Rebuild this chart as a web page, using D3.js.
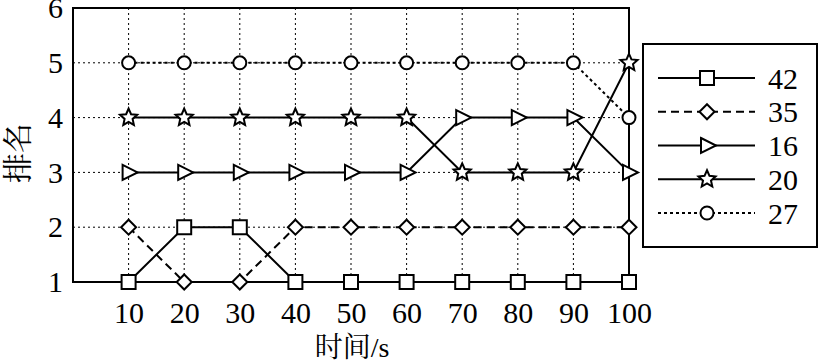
<!DOCTYPE html>
<html><head><meta charset="utf-8">
<script src="https://cdn.jsdelivr.net/npm/d3@7"></script>
<style>body{margin:0;background:#fff}svg{display:block}</style>
</head><body>
<svg id="c" width="822" height="362"></svg>
<script>
const times = [10,20,30,40,50,60,70,80,90,100];
const yTicks = [1,2,3,4,5,6];
const s42 = [1,2,2,1,1,1,1,1,1,1];
const s35 = [2,1,1,2,2,2,2,2,2,2];
const s16 = [3,3,3,3,3,3,4,4,4,3];
const s20 = [4,4,4,4,4,4,3,3,3,5];
const s27 = [5,5,5,5,5,5,5,5,5,4];
const seriesNames = ["42","35","16","20","27"];
const xLabel = "时间/s";
const yLabel = "排名";

const svg = d3.select("#c");
const L=73, R=629, T=8, B=282;
const x = d3.scaleLinear().domain([0,100]).range([L,R]);
const y = d3.scaleLinear().domain([1,6]).range([B,T]);
const serif = "Liberation Serif, DejaVu Serif, serif";
const cjk = "Noto Serif CJK SC, Noto Sans CJK SC, serif";

const symSquare = {draw(c){const h=7;c.moveTo(-h,-h);c.lineTo(h,-h);c.lineTo(h,h);c.lineTo(-h,h);c.closePath();}};
const symDiamond = {draw(c){const h=7.5;c.moveTo(0,-h);c.lineTo(h,0);c.lineTo(0,h);c.lineTo(-h,0);c.closePath();}};
const symTri = {draw(c){c.moveTo(-6,-7.5);c.lineTo(9,0);c.lineTo(-6,7.5);c.closePath();}};
const symCircle = {draw(c){c.moveTo(6.5,0);c.arc(0,0,6.5,0,2*Math.PI);}};
const symStar = {draw(c){const ro=9, ri=4.2;for(let i=0;i<10;i++){const r=i%2?ri:ro;const a=-Math.PI/2+i*Math.PI/5;const px=r*Math.cos(a),py=r*Math.sin(a);if(i===0)c.moveTo(px,py);else c.lineTo(px,py);}c.closePath();}};

const series = [
  {name:seriesNames[0], vals:s42, sym:symSquare, dash:null},
  {name:seriesNames[1], vals:s35, sym:symDiamond, dash:"8,5"},
  {name:seriesNames[2], vals:s16, sym:symTri, dash:null},
  {name:seriesNames[3], vals:s20, sym:symStar, dash:null},
  {name:seriesNames[4], vals:s27, sym:symCircle, dash:"3,3"}
];

const g = svg.append("g");
g.selectAll(".vg").data(times).join("line")
  .attr("x1",d=>x(d)).attr("x2",d=>x(d)).attr("y1",T).attr("y2",B)
  .attr("stroke","#000").attr("stroke-width",1).attr("stroke-dasharray","2,3");
g.selectAll(".hg").data(yTicks.filter(d=>d>1&&d<6)).join("line")
  .attr("x1",L).attr("x2",R).attr("y1",d=>y(d)).attr("y2",d=>y(d))
  .attr("stroke","#000").attr("stroke-width",1).attr("stroke-dasharray","2,3");

const xAxis = d3.axisBottom(x).tickValues(times).tickSize(0).tickPadding(20);
const xa = svg.append("g").attr("transform",`translate(0,${B})`).call(xAxis)
  .attr("font-family",serif).attr("font-size",30);
xa.select(".domain").remove();
xa.selectAll("text").style("font-family",serif).style("font-size","30px").attr("fill","#000");
const yAxis = d3.axisLeft(y).tickValues(yTicks).tickSize(0).tickPadding(10).tickFormat(d3.format("d"));
const ya = svg.append("g").attr("transform",`translate(${L},0)`).call(yAxis)
  .attr("font-family",serif).attr("font-size",30);
ya.select(".domain").remove();
ya.selectAll("text").style("font-family",serif).style("font-size","30px").attr("fill","#000");

const line = d3.line().x((d,i)=>x(times[i])).y(d=>y(d));
series.forEach(s=>{
  svg.append("path").datum(s.vals).attr("d",line).attr("fill","none")
    .attr("stroke","#000").attr("stroke-width",2)
    .attr("stroke-dasharray",s.dash);
});

svg.append("rect").attr("x",L).attr("y",T).attr("width",R-L).attr("height",B-T)
  .attr("fill","none").attr("stroke","#000").attr("stroke-width",2);

series.forEach(s=>{
  svg.append("g").selectAll("path").data(s.vals).join("path")
    .attr("d",d3.symbol().type(s.sym))
    .attr("transform",(d,i)=>`translate(${x(times[i])},${y(d)})`)
    .attr("fill","#fff").attr("stroke","#000").attr("stroke-width",2);
});

const lg = svg.append("g");
lg.append("rect").attr("x",643).attr("y",44).attr("width",174).attr("height",203)
  .attr("fill","#fff").attr("stroke","#000").attr("stroke-width",2);
const ly = d3.scalePoint().domain(seriesNames).range([78,213]);
series.forEach(s=>{
  const yy = ly(s.name);
  lg.append("line").attr("x1",658).attr("x2",755).attr("y1",yy).attr("y2",yy)
    .attr("stroke","#000").attr("stroke-width",2).attr("stroke-dasharray",s.dash);
  lg.append("path").attr("d",d3.symbol().type(s.sym)).attr("transform",`translate(707,${yy})`)
    .attr("fill","#fff").attr("stroke","#000").attr("stroke-width",2);
  lg.append("text").attr("x",768).attr("y",yy).attr("dy","0.35em")
    .style("font-family",serif).style("font-size","30px").text(s.name);
});

const xt = svg.append("text").attr("x",352).attr("y",357).attr("text-anchor","middle")
  .style("font-size","28px");
xt.append("tspan").style("font-family",cjk).text(xLabel.slice(0,2));
xt.append("tspan").style("font-family",serif).text(xLabel.slice(2));
svg.append("text").attr("transform","translate(28,153) rotate(-90)").attr("text-anchor","middle")
  .style("font-family",cjk).style("font-size","30px").text(yLabel);
</script>
</body></html>
